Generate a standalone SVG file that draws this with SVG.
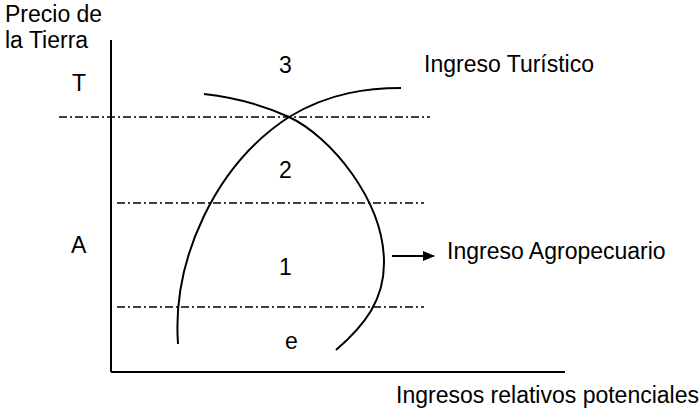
<svg xmlns="http://www.w3.org/2000/svg" width="699" height="411" viewBox="0 0 699 411">
<defs>
<style>
text{font-family:"Liberation Sans",Arial,sans-serif;font-size:23px;fill:#000}
.axis{stroke:#000;stroke-width:2;fill:none}
.curve{stroke:#000;stroke-width:2;fill:none}
.dd{stroke:#000;stroke-width:1.5;stroke-dasharray:8 3 2 3;fill:none}
</style>
<marker id="ah" viewBox="0 0 12 10" refX="11" refY="5" markerWidth="6" markerHeight="5" orient="auto" markerUnits="strokeWidth">
<path d="M0,0 L12,5 L0,10 z" fill="#000"/>
</marker>
</defs>
<rect width="699" height="411" fill="#fff"/>
<g id="axes">
<line class="axis" x1="111" y1="40" x2="111" y2="372"/>
<line class="axis" x1="111" y1="372" x2="565" y2="372"/>
</g>
<g id="levels">
<line class="dd" x1="59" y1="117" x2="430" y2="117"/>
<line class="dd" x1="117" y1="203" x2="424" y2="203"/>
<line class="dd" x1="117" y1="307" x2="424" y2="307"/>
</g>
<g id="connectors">
<path id="ingreso-agro" class="curve" d="M204,94 C240,98 265,106 289,117 C330,136 384,200 384,263 C384,300 365,325 336,350"/>
<path id="ingreso-turistico" class="curve" d="M178,344 C172,260 215,165 289,117 C330,92 370,88 401,88"/>
<line class="axis" x1="392" y1="256" x2="434" y2="256" marker-end="url(#ah)"/>
</g>
<g id="labels">
<text x="5" y="22">Precio de</text>
<text x="5" y="48">la Tierra</text>
<text x="72" y="91">T</text>
<text x="71" y="253">A</text>
<text x="279" y="73">3</text>
<text x="279" y="178">2</text>
<text x="279" y="275">1</text>
<text x="285" y="349">e</text>
<text x="424" y="72">Ingreso Turístico</text>
<text x="447" y="259">Ingreso Agropecuario</text>
<text x="396" y="403">Ingresos relativos potenciales</text>
</g>
</svg>
